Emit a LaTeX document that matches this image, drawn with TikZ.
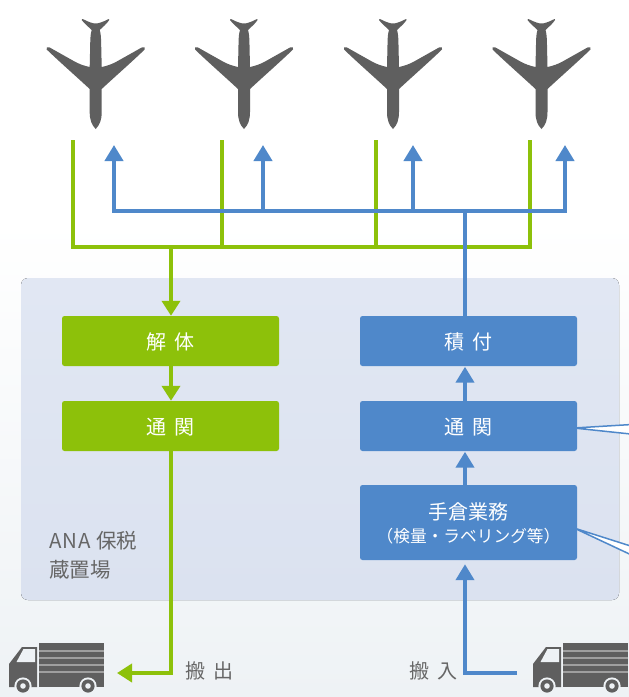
\documentclass[tikz,border=0pt]{standalone}
\usepackage{fontspec}
\setmainfont{Noto Sans CJK JP}
\usetikzlibrary{arrows.meta}
\definecolor{gre}{HTML}{8DC10A}
\definecolor{blu}{HTML}{4F88CA}
\definecolor{gry}{HTML}{5F5F5F}
\definecolor{txt}{HTML}{666666}
\definecolor{pan}{HTML}{E1E7F3}
\definecolor{panb}{HTML}{DBE2F0}
\definecolor{bgb}{HTML}{EEF2F5}
\newcommand{\gp}{\hspace{8pt}}
\newcommand{\boxtxt}[1]{\raisebox{-8.6pt}[0pt][0pt]{#1}}
\tikzset{
  greenline/.style={draw=gre,line width=4.4pt},
  blueline/.style={draw=blu,line width=4.4pt},
  greenarrow/.style={greenline,-{Triangle[length=15pt,width=18pt]}},
  bluearrow/.style={blueline,-{Triangle[length=16pt,width=18pt]}},
  flowbox/.style={rounded corners=2.5pt,inner sep=0pt,minimum width=217pt,text=white,font=\fontsize{20}{24}\selectfont,align=center},
  greenbox/.style={flowbox,fill=gre},
  bluebox/.style={flowbox,fill=blu},
  plainlabel/.style={text=txt,font=\fontsize{20}{24}\selectfont,inner sep=0pt},
  pics/plane/.style={code={
    \fill[gry] (0,129) .. controls (-4,125) and (-6,120) .. (-6,112)
      -- (-6,89) .. controls (-20,76) and (-36,62) .. (-49,49.5) .. controls (-50.5,47.5) and (-48,46.5) .. (-46,47.5)
      -- (-22,61) .. controls (-17,64) and (-11,66) .. (-6,67)
      -- (-5.5,45) .. controls (-5.5,38) and (-5,33) .. (-4,30)
      .. controls (-7,27) and (-11,24) .. (-14,20) .. controls (-14,18.5) and (-13,19) .. (-12,19.5)
      .. controls (-7,22) and (-3,23.5) .. (0,23.5)
      .. controls (3,23.5) and (7,22) .. (12,19.5) .. controls (13,19) and (14,18.5) .. (13.5,20)
      .. controls (11,24) and (7,27) .. (4,30)
      .. controls (5,33) and (5.5,38) .. (5.5,45)
      -- (6,67) .. controls (11,66) and (17,64) .. (22,61)
      -- (46,47.5) .. controls (48,46.5) and (50.5,47.5) .. (49,49.5)
      .. controls (36,62) and (20,76) .. (6,89) -- (6,112) .. controls (6,120) and (4,125) .. (0,129) -- cycle;
  }},
  pics/truck/.style={code={
    \fill[gry] (39,643) rectangle (104,687);
    \foreach \yy in {651,658,665,672} \fill[gray!75] (39,\yy-0.7) rectangle (104,\yy+0.7);
    \fill[gry] (9,664) -- (22,647) -- (37,647) -- (37,687) -- (9,687) -- cycle;
    \fill[bgb] (16.5,662) -- (23.5,649) -- (35,649) -- (35,662) -- cycle;
    \foreach \xx in {23,88} {
      \fill[bgb] (\xx,686) circle (8.6);
      \fill[gry] (\xx,686) circle (6.6);
      \fill[bgb] (\xx,686) circle (2.8);
    }
  }}
}
\begin{document}
\begin{tikzpicture}[x=1pt,y=-1pt]
\useasboundingbox (0,0) rectangle (629,697);
\clip (0,0) rectangle (629,697);
\fill[white] (0,0) rectangle (629,250);
\shade[top color=white,bottom color=bgb] (0,220) rectangle (629,697);
\fill[top color=pan,bottom color=panb,rounded corners=7pt] (21,278) rectangle (619,600);

% planes
\pic at (95.7,0) {plane};
\pic at (244,0) {plane};
\pic at (393,0) {plane};
\pic at (541.5,0) {plane};

% callout pointers
\filldraw[fill=white,draw=blu,line width=1.5pt,line join=round] (574,428) -- (640,424) -- (640,435) -- cycle;
\filldraw[fill=white,draw=blu,line width=1.5pt,line join=round] (574,528) -- (640,549) -- (640,559) -- cycle;

% boxes
\node[greenbox,minimum height=50pt] (kaitai) at (170.5,341) {\boxtxt{解\gp 体}};
\node[greenbox,minimum height=50pt] (tsukanL) at (170.5,426) {\boxtxt{通\gp 関}};
\node[bluebox,minimum height=50pt] (tsumi) at (468.5,341) {\boxtxt{積\gp 付}};
\node[bluebox,minimum height=50pt] (tsukanR) at (468.5,426) {\boxtxt{通\gp 関}};
\node[bluebox,minimum height=75pt] (tegura) at (468.5,522.5) {\rule{0pt}{18.5pt}手倉業務\\[-1.5pt]{\fontsize{16.7}{19}\selectfont （検量・ラベリング等）}};

% junction coordinates
\coordinate (g1) at (73,140); \coordinate (g2) at (222,140);
\coordinate (g3) at (376,140); \coordinate (g4) at (530,140);
\coordinate (gb1) at (73,247); \coordinate (gb2) at (222,247);
\coordinate (gb3) at (376,247); \coordinate (gb4) at (530,247);
\coordinate (gd) at (171,247);
\coordinate (b1) at (114,145); \coordinate (b2) at (263,145);
\coordinate (b3) at (413,145); \coordinate (b4) at (565,145);
\coordinate (bb1) at (114,211); \coordinate (bb2) at (263,211);
\coordinate (bb3) at (413,211); \coordinate (bb4) at (565,211);
\coordinate (bj) at (465,211);
\coordinate (outEnd) at (117,673); \coordinate (outCorner) at (171,673);
\coordinate (inStart) at (517,673); \coordinate (inCorner) at (465,673);

% green network
\draw[greenline,line join=miter] (g1) -- (gb1) -- (gb4) -- (g4);
\draw[greenline] (g2) -- (gb2);
\draw[greenline] (g3) -- (gb3);
\draw[greenarrow] (gd) -- (kaitai.north -| gd);
\draw[greenarrow] (kaitai.south -| gd) -- (tsukanL.north -| gd);
\draw[greenarrow,line join=miter] (tsukanL.south -| gd) -- (outCorner) -- (outEnd);

% blue network
\draw[bluearrow] (bb1) -- (b1);
\draw[bluearrow] (bb2) -- (b2);
\draw[bluearrow] (bb3) -- (b3);
\draw[bluearrow] (bb4) -- (b4);
\draw[blueline,line cap=rect] (bb1) -- (bb4);
\draw[blueline] (tsumi.north -| bj) -- (bj);
\draw[bluearrow] (tsukanR.north -| bj) -- ([yshift=-0.5pt]tsumi.south -| bj);
\draw[bluearrow] (tegura.north -| bj) -- ([yshift=-0.5pt]tsukanR.south -| bj);
\draw[bluearrow,line join=miter] (inStart) -- (inCorner) -- ([yshift=-4pt]tegura.south -| bj);

% trucks
\pic at (0,0) {truck};
\pic at (524,0) {truck};

% labels
\node[plainlabel,anchor=west] (out) at (185,671) {搬\gp 出};
\node[plainlabel,anchor=west] (in) at (409,671) {搬\gp 入};
\node[plainlabel,anchor=west,font=\fontsize{20.5}{29}\selectfont,align=left] (hozei) at (49,555) {A\kern1pt N\kern1pt A\hspace{5.5pt}保税\\蔵置場};
\end{tikzpicture}
\end{document}
